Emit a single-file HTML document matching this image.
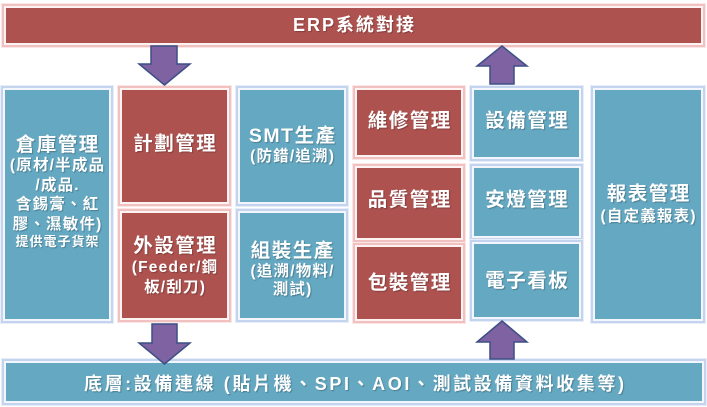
<!DOCTYPE html>
<html><head><meta charset="utf-8">
<style>
html,body{margin:0;padding:0;background:#fff;}
body{width:707px;height:407px;position:relative;overflow:hidden;font-family:"Liberation Sans","Noto Sans CJK TC","Noto Sans CJK SC",sans-serif;}
.b{position:absolute;box-sizing:border-box;}
.r{background:#ae524f;box-shadow:0 0 0 2px #fdf3f3,0 0 0 4px #f1c0c0,0 0 0 5px #fbe6e6;}
.u{background:#64a8c2;box-shadow:0 0 0 2px #f3f6fc,0 0 0 4px #c4d3ee,0 0 0 5px #e8eef9;}
.t{position:absolute;color:#fff;text-align:center;font-weight:bold;white-space:nowrap;text-shadow:1px 1px 1px rgba(0,0,0,0.25);}
.h{font-size:19.5px;line-height:22px;letter-spacing:1.5px;text-indent:1.5px;}
.s{font-size:15.5px;line-height:18px;letter-spacing:1.2px;text-indent:1.2px;}
.x{font-size:13px;line-height:16px;letter-spacing:1px;text-indent:1px;}
svg{position:absolute;left:0;top:0;}
</style></head><body>

<div class="b r" style="left:6px;top:8px;width:695px;height:35px;"></div>
<div class="b u" style="left:6px;top:363px;width:696px;height:38px;"></div>

<div class="b u" style="left:5px;top:90px;width:104px;height:229px;"></div>
<div class="b r" style="left:122px;top:90px;width:105px;height:112px;"></div>
<div class="b r" style="left:122px;top:213px;width:105px;height:105px;"></div>
<div class="b u" style="left:240px;top:90px;width:104px;height:112px;"></div>
<div class="b u" style="left:240px;top:213px;width:104px;height:105px;"></div>
<div class="b r" style="left:357px;top:90px;width:104px;height:65px;"></div>
<div class="b r" style="left:357px;top:168px;width:104px;height:70px;"></div>
<div class="b r" style="left:357px;top:247px;width:104px;height:72px;"></div>
<div class="b u" style="left:474px;top:90px;width:105px;height:67px;"></div>
<div class="b u" style="left:474px;top:168px;width:105px;height:68px;"></div>
<div class="b u" style="left:474px;top:244px;width:105px;height:73px;"></div>
<div class="b u" style="left:595px;top:90px;width:106px;height:229px;"></div>

<svg width="707" height="407" viewBox="0 0 707 407">
<g fill="#7e62a1" stroke="#3d4f86" stroke-width="1.5" stroke-linejoin="miter">
<polygon points="151,46 177,46 177,64 190,64 164.5,85 139,64 151,64"/>
<polygon points="152,324 177,324 177,343 190,343 164.5,364 139,343 152,343"/>
<polygon points="502,46 527,66 514,66 514,84 490,84 490,66 477,66"/>
<polygon points="502,321 527,342 514,342 514,359 490,359 490,342 477,342"/>
</g>
</svg>

<div class="t" style="left:6px;width:695px;top:14px;font-size:18px;line-height:22px;letter-spacing:2px;text-indent:2px;">ERP系統對接</div>
<div class="t" style="left:6px;width:696px;top:373px;font-size:18px;line-height:22px;letter-spacing:2.6px;text-indent:2.6px;">底層:設備連線 (貼片機、SPI、AOI、測試設備資料收集等)</div>

<div class="t h" style="left:5px;width:104px;top:134px;">倉庫管理</div>
<div class="t s" style="left:5px;width:104px;top:157px;">(原材/半成品</div>
<div class="t s" style="left:5px;width:104px;top:177px;">/成品.</div>
<div class="t s" style="left:5px;width:104px;top:196px;">含錫膏、紅</div>
<div class="t s" style="left:5px;width:104px;top:216px;">膠、濕敏件)</div>
<div class="t x" style="left:5px;width:104px;top:234px;">提供電子貨架</div>

<div class="t h" style="left:122px;width:105px;top:133px;">計劃管理</div>
<div class="t h" style="left:122px;width:105px;top:235px;">外設管理</div>
<div class="t s" style="left:122px;width:105px;top:259px;">(Feeder/鋼</div>
<div class="t s" style="left:122px;width:105px;top:279px;">板/刮刀)</div>

<div class="t h" style="left:240px;width:104px;top:125px;">SMT生產</div>
<div class="t s" style="left:240px;width:104px;top:148px;">(防錯/追溯)</div>
<div class="t h" style="left:240px;width:104px;top:240px;">組裝生產</div>
<div class="t s" style="left:240px;width:104px;top:263px;">(追溯/物料/</div>
<div class="t s" style="left:240px;width:104px;top:281px;">測試)</div>

<div class="t h" style="left:357px;width:104px;top:110px;">維修管理</div>
<div class="t h" style="left:357px;width:104px;top:189px;">品質管理</div>
<div class="t h" style="left:357px;width:104px;top:272px;">包裝管理</div>

<div class="t h" style="left:474px;width:105px;top:110px;">設備管理</div>
<div class="t h" style="left:474px;width:105px;top:189px;">安燈管理</div>
<div class="t h" style="left:474px;width:105px;top:270px;">電子看板</div>

<div class="t h" style="left:595px;width:106px;top:183px;">報表管理</div>
<div class="t s" style="left:595px;width:106px;top:208px;">(自定義報表)</div>

</body></html>
